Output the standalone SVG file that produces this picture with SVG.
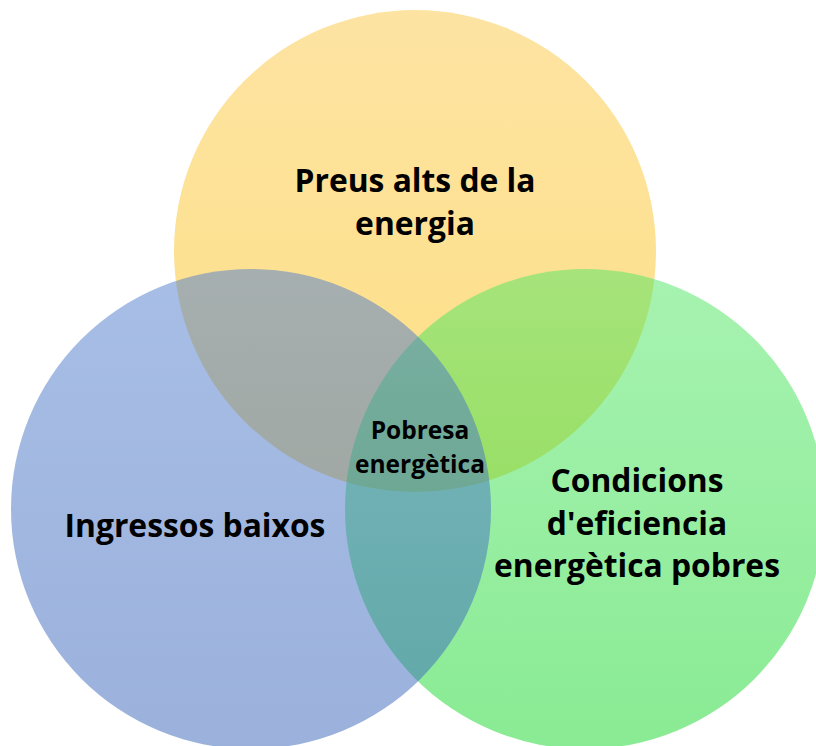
<svg xmlns="http://www.w3.org/2000/svg" width="816" height="746" viewBox="0 0 816 746">
  <defs>
    <linearGradient id="gY" x1="0" y1="0" x2="0" y2="1">
      <stop offset="0" stop-color="#FBC846"/>
      <stop offset="1" stop-color="#FBC00A"/>
    </linearGradient>
    <linearGradient id="gB" x1="0" y1="0" x2="0" y2="1">
      <stop offset="0" stop-color="#507DCD"/>
      <stop offset="1" stop-color="#3764B9"/>
    </linearGradient>
    <linearGradient id="gG" x1="0" y1="0" x2="0" y2="1">
      <stop offset="0" stop-color="#50E664"/>
      <stop offset="1" stop-color="#14D728"/>
    </linearGradient>
  </defs>
  <style>
    .c { fill-opacity: 0.5; stroke: none; }
    .t { font-family: "Open Sans", "Noto Sans", "Liberation Sans", sans-serif; font-weight: bold; font-size: 31.8px; fill: #000; text-anchor: middle; }
    .s { font-family: "Open Sans", "Noto Sans", "Liberation Sans", sans-serif; font-weight: bold; font-size: 24.5px; fill: #000; text-anchor: middle; }
  </style>
  <rect width="816" height="746" fill="#FFFFFF"/>
  <g id="node-preus">
    <circle class="c" cx="415" cy="251" r="241" fill="url(#gY)"/>
    <text class="t" x="415" y="192">Preus alts de la</text>
    <text class="t" x="415" y="235">energia</text>
  </g>
  <g id="node-condicions">
    <circle class="c" cx="585" cy="509" r="240" fill="url(#gG)"/>
    <text class="t" x="637" y="492">Condicions</text>
    <text class="t" x="637" y="535">d'eficiencia</text>
    <text class="t" x="637" y="577">energètica pobres</text>
  </g>
  <g id="node-ingressos">
    <circle class="c" cx="251" cy="509" r="240" fill="url(#gB)"/>
    <text class="t" x="195" y="537">Ingressos baixos</text>
  </g>
  <g id="node-pobresa">
    <text class="s" x="420" y="439">Pobresa</text>
    <text class="s" x="420" y="473">energètica</text>
  </g>
  <g id="connectors"/>
</svg>
